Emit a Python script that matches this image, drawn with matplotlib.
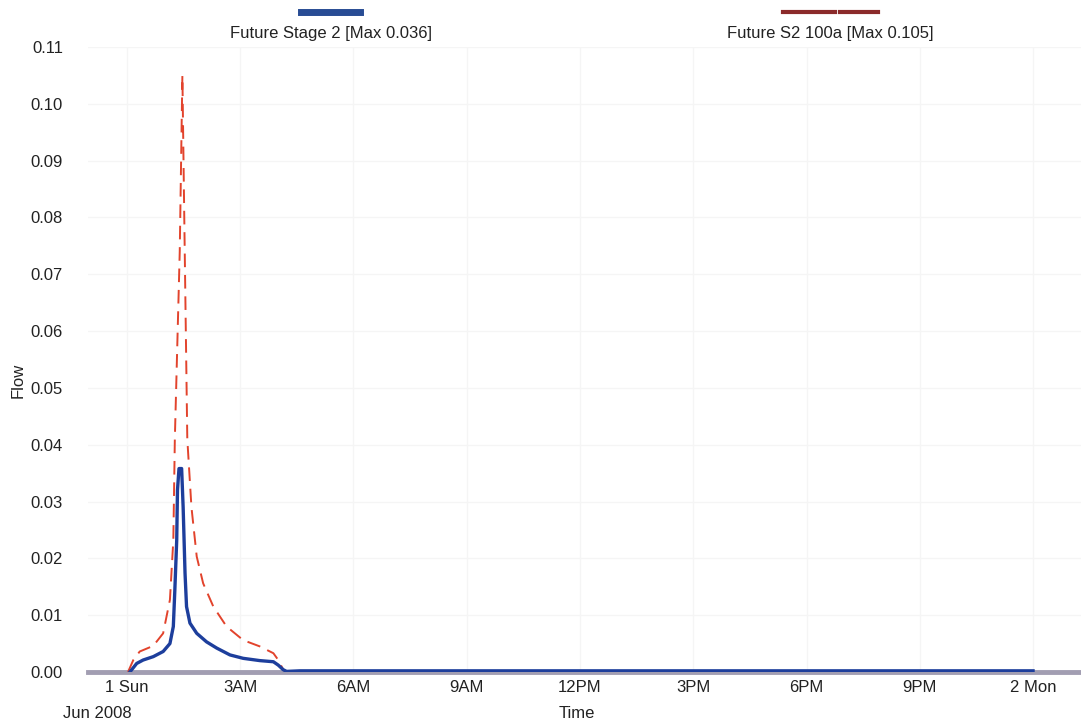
"""
Flow hydrograph - Future Stage 2 vs Future S2 100a
"""
import numpy as np
import matplotlib
matplotlib.use('Agg')
import matplotlib.pyplot as plt
from matplotlib.lines import Line2D

plt.rcParams['font.family'] = ['Liberation Sans', 'DejaVu Sans']

# hours since 1 Jun 2008 00:00
stage2_t = [0.08, 0.26, 0.43, 0.70, 0.96, 1.14, 1.23, 1.27, 1.32, 1.34, 1.38, 1.45,
            1.49, 1.54, 1.58, 1.67, 1.85, 2.11, 2.38, 2.73, 3.08, 3.52, 3.88, 4.01,
            4.14, 4.23, 4.58, 24.0]
stage2_q = [0.0, 0.0015, 0.0021, 0.0027, 0.0036, 0.005, 0.008, 0.0144, 0.0232, 0.032,
            0.0358, 0.0358, 0.029, 0.0174, 0.0115, 0.0086, 0.0068, 0.0053, 0.0042, 0.003,
            0.0024, 0.002, 0.0018, 0.0012, 0.0004, 0.0001, 0.0002, 0.0002]

s2_100a_t = [0.03, 0.17, 0.34, 0.70, 0.96, 1.14, 1.23, 1.27, 1.40, 1.47, 1.52, 1.60,
             1.71, 1.85, 2.02, 2.29, 2.64, 3.08, 3.52, 3.88, 4.01, 4.14, 4.21, 24.0]
s2_100a_q = [0.0, 0.0021, 0.0036, 0.0046, 0.0068, 0.0127, 0.0232, 0.041, 0.074, 0.105,
             0.08, 0.041, 0.029, 0.0203, 0.0156, 0.0115, 0.008, 0.0056, 0.0045, 0.0033,
             0.0021, 0.0004, 0.0, 0.0]

tick_hours = [0, 3, 6, 9, 12, 15, 18, 21, 24]
tick_labels = ['1 Sun', '3AM', '6AM', '9AM', '12PM', '3PM', '6PM', '9PM', '2 Mon']
y_ticks = np.arange(0, 0.111, 0.01)

fig = plt.figure(figsize=(10.81, 7.27), dpi=100)
ax = fig.add_axes([0.0814, 0.0757, 0.9186, 0.8597])

ax.plot(s2_100a_t, s2_100a_q, color='#e2432c', lw=1.4, dashes=(7, 4), zorder=3)
ax.plot(stage2_t, stage2_q, color='#1d3e9c', lw=2.4, zorder=4)

ax.set_xlim(-1.03, 25.27)
ax.set_ylim(0, 0.11)
ax.set_xticks(tick_hours)
ax.set_xticklabels(tick_labels)
ax.set_yticks(y_ticks)
ax.set_yticklabels(['%.2f' % v for v in y_ticks])
ax.tick_params(length=0, labelsize=12, colors='#222222')
ax.tick_params(axis='y', pad=18)
ax.tick_params(axis='x', pad=6)
ax.grid(True, color='#f5f5f5', lw=1)

for s in ['top', 'right', 'left']:
    ax.spines[s].set_visible(False)
ax.spines['bottom'].set_color('#a29eb2')
ax.spines['bottom'].set_linewidth(3.5)

fig.text(0.0167, 0.477, 'Flow', rotation=90, fontsize=12, ha='center', va='center', color='#222222')
fig.text(0.534, 0.019, 'Time', fontsize=12, ha='center', va='center', color='#222222')
fig.text(0.090, 0.019, 'Jun 2008', fontsize=12, ha='center', va='center', color='#222222')

# legend above the plot
fig.add_artist(Line2D([0.278, 0.333], [0.983, 0.983], color='#284c94', lw=5,
                      transform=fig.transFigure))
fig.text(0.306, 0.954, 'Future Stage 2 [Max 0.036]', fontsize=12, ha='center', va='center',
         color='#222222')
fig.add_artist(Line2D([0.724, 0.772], [0.983, 0.983], color='#8b2a2a', lw=3,
                      transform=fig.transFigure))
fig.add_artist(Line2D([0.777, 0.812], [0.983, 0.983], color='#8b2a2a', lw=3,
                      transform=fig.transFigure))
fig.text(0.768, 0.954, 'Future S2 100a [Max 0.105]', fontsize=12, ha='center', va='center',
         color='#222222')

fig.savefig('out.png', dpi=100)
